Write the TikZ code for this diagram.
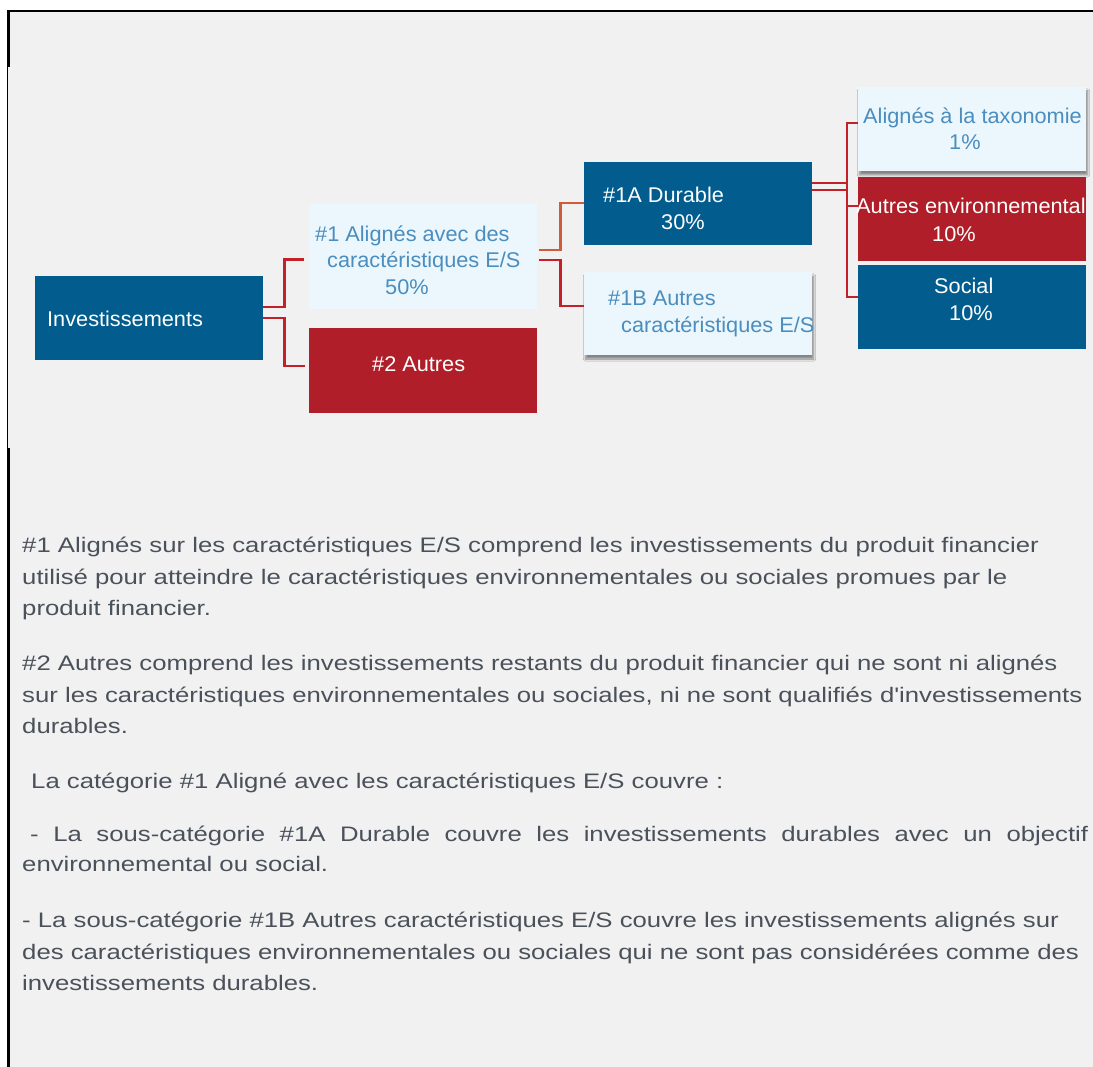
\documentclass[tikz,border=0pt]{standalone}
\usepackage{fontspec}
\setmainfont{Liberation Sans}
\newfontfamily\parafont[FakeStretch=1.225]{Liberation Sans}
\newfontfamily\boxfont[FakeStretch=1.02]{Liberation Sans}
\usetikzlibrary{calc,shadows.blur}
\definecolor{bgray}{HTML}{F1F1F1}
\definecolor{boxblue}{HTML}{025D8E}
\definecolor{boxred}{HTML}{B01F29}
\definecolor{boxlight}{HTML}{EBF7FC}
\definecolor{lighttext}{HTML}{4A8DBE}
\definecolor{connred}{HTML}{C4202A}
\definecolor{connorange}{HTML}{CF5D3C}
\definecolor{paratext}{HTML}{4B515A}
\begin{document}
\begin{tikzpicture}[x=1pt,y=-1pt,
  box/.style={rectangle, inner sep=0pt, minimum width=228pt, minimum height=84pt, draw=none},
  bluebox/.style={box, fill=boxblue},
  redbox/.style={box, fill=boxred},
  lightbox/.style={box, fill=boxlight},
  shadowed/.style={blur shadow={shadow blur steps=8, shadow xshift=1.5pt, shadow yshift=-4pt, shadow opacity=45}},
  txt/.style={anchor=base west, inner sep=0pt, font=\boxfont\fontsize{21.3}{25}\selectfont},
  wtxt/.style={txt, text=white},
  ltxt/.style={txt, text=lighttext},
  ptxt/.style={anchor=base west, inner sep=0pt, text=paratext, font=\parafont\fontsize{21}{25}\selectfont},
  conn/.style={draw=connred, line width=2.5pt},
  connor/.style={draw=connorange, line width=2.5pt}]
\useasboundingbox (0,0) rectangle (1093,1067);
\fill[white] (0,0) rectangle (1093,1067);
\fill[bgray] (8,11) rectangle (1093,1067);
\draw[line width=2pt] (7,11) -- (1093,11);
\draw[line width=3pt] (8,10) -- (8,67);
\draw[line width=1.2pt] (7.6,67) -- (7.6,448);
\draw[line width=3pt] (8,448) -- (8,1067);

% boxes
\node[bluebox] (inv) at (148.5,318) {};
\node[lightbox, minimum height=105pt] (b1) at (422.5,256.5) {};
\node[redbox, minimum height=85pt] (b2) at (423,370.5) {};
\node[bluebox, minimum height=83pt] (b1a) at (698,203.5) {};
\node[lightbox, minimum height=83pt, shadowed] (b1b) at (698,313.5) {};
\node[lightbox, shadowed] (tax) at (972,129) {};
\node[redbox] (env) at (972,219) {};
\node[bluebox] (soc) at (972,307) {};

% connectors
\draw[conn] ($(inv.east)+(0,-11)$) -- ++(22,0) |- ($(b1.west)+(-4,3)$);
\draw[conn] (inv.east) -- ++(22,0) |- ($(b2.west)+(-4,-4.5)$);
\draw[connor] ($(b1.east)+(2,-6.5)$) -- ++(22,0) |- ($(b1a.west)+(0,-0.5)$);
\draw[conn] ($(b1.east)+(2,3.5)$) -- ++(22,0) |- ($(b1b.west)+(0,-7.5)$);
\draw[conn] ($(b1a.east)+(0,-20.5)$) coordinate (d1) -- ++(35,0);
\draw[conn, line width=2pt] ($(b1a.east)+(0,-13.5)$) coordinate (d2) -- ++(35,0);
\draw[conn, line width=2pt] ($(tax.west)+(0,-6)$) -- ++(-11,0) |- ($(soc.west)+(0,-10)$);
\draw[conn, line width=2pt] ($(env.west)+(0,-13)$) -- ++(-11,0);

% box texts
\node[wtxt] (tinv) at (47,327) {Investissements};
\node[ltxt] (t1a) at (315,241.5) {\#1 Alignés avec des};
\node[ltxt] (t1b) at (327,267.5) {caractéristiques E/S};
\node[ltxt] (t1c) at (385,295) {50\%};
\node[wtxt] (t2) at (372,371.5) {\#2 Autres};
\node[wtxt] (t1aa) at (603,202.5) {\#1A Durable};
\node[wtxt] (t1ab) at (661,230) {30\%};
\node[ltxt] (t1ba) at (608,306) {\#1B Autres};
\node[ltxt] (t1bb) at (621,332.5) {caractéristiques E/S};
\node[ltxt] (ttaxa) at (863,123.5) {Alignés à la taxonomie};
\node[ltxt] (ttaxb) at (949,150) {1\%};
\node[wtxt] (tenva) at (856,213.5) {Autres environnemental};
\node[wtxt] (tenvb) at (932,241.5) {10\%};
\node[wtxt] (tsoca) at (934,293.5) {Social};
\node[wtxt] (tsocb) at (949,320.5) {10\%};

% paragraphs
\node[ptxt] (p1) at (22,552) {\#1 Alignés sur les caractéristiques E/S comprend les investissements du produit financier};
\node[ptxt] (p2) at (22,584) {utilisé pour atteindre le caractéristiques environnementales ou sociales promues par le};
\node[ptxt] (p3) at (22,615) {produit financier.};
\node[ptxt] (p4) at (22,670) {\#2 Autres comprend les investissements restants du produit financier qui ne sont ni alignés};
\node[ptxt] (p5) at (22,702) {sur les caractéristiques environnementales ou sociales, ni ne sont qualifiés d'investissements};
\node[ptxt] (p6) at (22,733) {durables.};
\node[ptxt] (p7) at (31,788) {La catégorie \#1 Aligné avec les caractéristiques E/S couvre :};
\node[ptxt] (p8) at (30,841) {\makebox[1058pt][s]{- La sous-catégorie \#1A Durable couvre les investissements durables avec un objectif}};
\node[ptxt] (p9) at (22,871) {environnemental ou social.};
\node[ptxt] (p10) at (22,927) {- La sous-catégorie \#1B Autres caractéristiques E/S couvre les investissements alignés sur};
\node[ptxt] (p11) at (22,959) {des caractéristiques environnementales ou sociales qui ne sont pas considérées comme des};
\node[ptxt] (p12) at (22,990) {investissements durables.};
\end{tikzpicture}
\end{document}
